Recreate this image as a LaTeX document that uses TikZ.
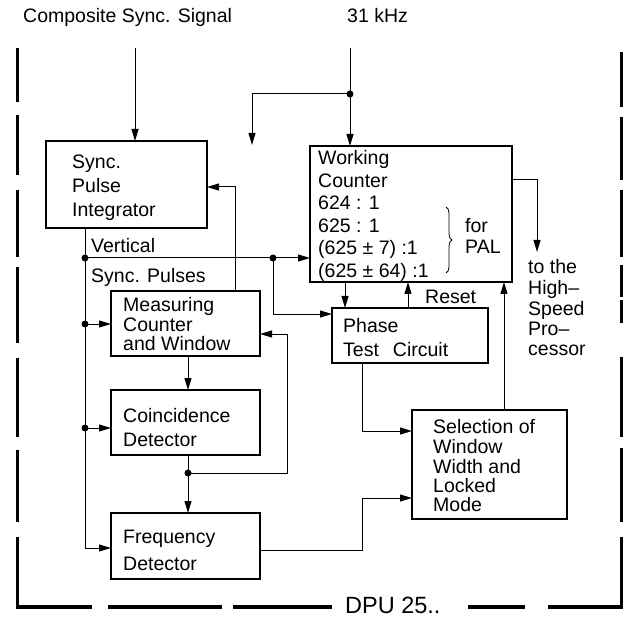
\documentclass[tikz,border=0pt]{standalone}
\usepackage{fontspec}
\setmainfont{Liberation Sans}
\usetikzlibrary{arrows.meta,decorations.pathreplacing}
\begin{document}
\begin{tikzpicture}[x=1pt,y=-1pt,
  box/.style={draw,line width=1.8pt,anchor=north west,inner sep=0pt,outer sep=0pt},
  txt/.style={anchor=base west,inner sep=0pt,font=\fontsize{19.5}{22}\selectfont},
  conn/.style={line width=1pt},
  arr/.style={conn,-{Triangle[length=12pt,width=7pt]}},
  dotc/.style={circle,fill,inner sep=0pt,minimum size=7pt},
  frame/.style={line width=3.5pt}]
\useasboundingbox (0,0) rectangle (623,617);

% frame
\foreach \a/\b in {48/102,115/175,190/257,267/343,358/437,450/522}
  \draw[frame] (17.5,\a) -- (17.5,\b);
\draw[frame] (17.5,537) -- (17.5,607) -- (92,607);
\foreach \a/\b in {108/222,233/332,468/525}
  \draw[frame] (\a,607) -- (\b,607);
\draw[frame] (548,607) -- (621.5,607) -- (621.5,537);
\foreach \a/\b in {52/107,117/180,190/257,265/297,300/323,357/437,448/522}
  \draw[frame] (621.5,\a) -- (621.5,\b);
\node[anchor=base west,inner sep=0pt,font=\fontsize{23.5}{25}\selectfont] (dpu) at (345,613.5) {DPU 25..};

% boxes
\node[box,minimum width=161pt,minimum height=87pt] (sync) at (46,141) {};
\node[box,minimum width=202pt,minimum height=136pt] (wc) at (310,146) {};
\node[box,minimum width=149pt,minimum height=65pt] (meas) at (111,291) {};
\node[box,minimum width=149pt,minimum height=65pt] (coin) at (111,390) {};
\node[box,minimum width=149pt,minimum height=66pt] (freq) at (111,513) {};
\node[box,minimum width=156pt,minimum height=55pt] (phase) at (332,308) {};
\node[box,minimum width=155pt,minimum height=109pt] (sel) at (412,410) {};

% texts
\node[txt] (tcs) at (23,23) {Composite Sync. Signal};
\node[txt] (tk) at (347,23) {31 kHz};
\node[txt] (ts1) at (72,169) {Sync.};
\node[txt] (ts2) at (72,193) {Pulse};
\node[txt] (ts3) at (72,217) {Integrator};
\node[txt] (tv1) at (91,253) {Vertical};
\node[txt] (tv2) at (91,283) {Sync. Pulses};
\node[txt] (tw1) at (318,165) {Working};
\node[txt] (tw2) at (318,187.5) {Counter};
\node[txt] (tw3) at (318,210) {624 : 1};
\node[txt] (tw4) at (318,232.5) {625 : 1};
\node[txt] (tw5) at (318,255) {(625 ± 7) :1};
\node[txt] (tw6) at (318,277.5) {(625 ± 64) :1};
\node[txt] (tf1) at (465,233) {for};
\node[txt] (tf2) at (465,254) {PAL};
\draw[line width=0.8pt,decorate,decoration={brace,amplitude=6pt}] (446,207) -- (446,273);
\node[txt] (tr) at (425,304) {Reset};
\node[txt] (th1) at (528,274) {to the};
\node[txt] (th2) at (528,294.5) {High--};
\node[txt] (th3) at (528,315) {Speed};
\node[txt] (th4) at (528,335) {Pro--};
\node[txt] (th5) at (528,355) {cessor};
\node[txt] (tp1) at (343,332) {Phase};
\node[txt] (tp2) at (343,356) {Test\hspace{14pt}Circuit};
\node[txt] (tl1) at (433,433) {Selection of};
\node[txt] (tl2) at (433,453) {Window};
\node[txt] (tl3) at (433,473) {Width and};
\node[txt] (tl4) at (433,492.5) {Locked};
\node[txt] (tl5) at (433,511.5) {Mode};
\node[txt] (tm1) at (123,311) {Measuring};
\node[txt] (tm2) at (123,331) {Counter};
\node[txt] (tm3) at (123,350) {and Window};
\node[txt] (tc1) at (123,422) {Coincidence};
\node[txt] (tc2) at (123,446) {Detector};
\node[txt] (tq1) at (123,543) {Frequency};
\node[txt] (tq2) at (123,570) {Detector};

% dots
\node[dotc] (kdot) at (350,94) {};
\node[dotc] (d1) at (85,258) {};
\node[dotc] (d2) at (85,324) {};
\node[dotc] (d3) at (85,428) {};
\node[dotc] (vd) at (273,258) {};
\node[dotc] (cd) at (188,473) {};

% coordinates
\coordinate (cin) at (135,48);
\coordinate (kin) at (350,48);
\coordinate (kend) at (252,145);
\coordinate (fb1) at (235,187);
\coordinate (fbus) at (85,548);
\coordinate (pin) at (273,314);
\coordinate (x345) at (345,0);
\coordinate (x408) at (408,0);
\coordinate (x504) at (504,0);
\coordinate (x188) at (188,0);
\coordinate (hs) at (537,180);
\coordinate (hsend) at (537,252);
\coordinate (pc) at (362,431);
\coordinate (fb2) at (287,334);
\coordinate (fo) at (362,550);
\coordinate (fo2) at (362,498);

% connectors
\draw[arr] (cin) -- (cin |- sync.north);
\draw[arr] (kin) -- (kin |- wc.north);
\draw[arr] (kdot.center) -| (kend);
\draw[arr] (fb1 |- meas.north) -- (fb1) -- (fb1 -| sync.east);
\draw[arr] (sync.south -| d1.center) -- (fbus) -- (fbus -| freq.west);
\draw[arr] (d2.center) -- (d2.center -| meas.west);
\draw[arr] (d3.center) -- (d3.center -| coin.west);
\draw[arr] (d1.center) -- (d1.center -| wc.west);
\draw[arr] (vd.center) -- (pin) -- (pin -| phase.west);
\draw[arr] (wc.south -| x345) -- (phase.north -| x345);
\draw[arr] (phase.north -| x408) -- (wc.south -| x408);
\draw[arr] (hs -| wc.east) -- (hs) -- (hsend);
\draw[arr] (sel.north -| x504) -- (wc.south -| x504);
\draw[arr] (phase.south -| pc) -- (pc) -- (pc -| sel.west);
\draw[arr] (meas.south -| x188) -- (coin.north -| x188);
\draw[arr] (coin.south -| x188) -- (freq.north -| x188);
\draw[arr] (cd.center) -| (fb2) -- (fb2 -| meas.east);
\draw[arr] (fo -| freq.east) -- (fo) -- (fo2) -- (fo2 -| sel.west);
\end{tikzpicture}
\end{document}
